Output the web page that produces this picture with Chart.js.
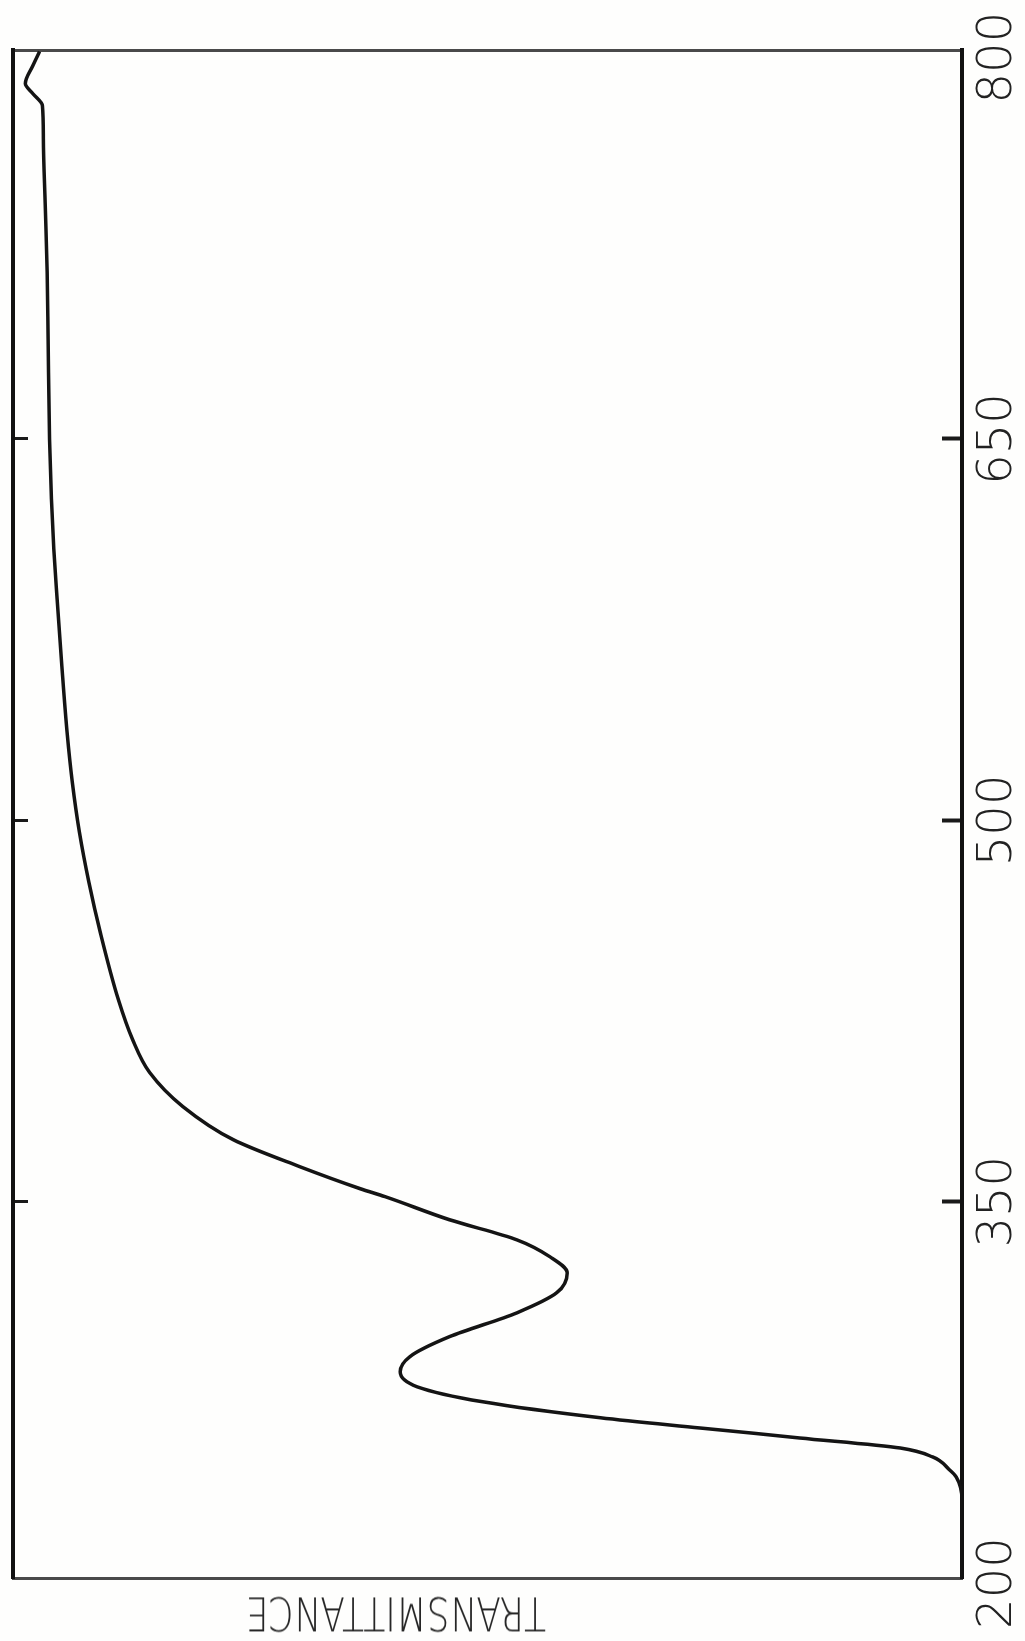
<!DOCTYPE html>
<html><head><meta charset="utf-8">
<script src="https://cdn.jsdelivr.net/npm/chart.js@4.4.0/dist/chart.umd.min.js"></script>
<style>
html,body{margin:0;padding:0;background:#fefefd;}
#wrap{position:relative;width:1025px;height:1641px;overflow:hidden;}
canvas{display:block;}
#tlabel{position:absolute;left:396px;top:1614px;font-family:"DejaVu Sans",sans-serif;font-weight:300;font-size:47px;color:#262626;white-space:nowrap;line-height:1;transform-origin:50% 50%;}
</style></head><body>
<div id="wrap"><canvas id="c" width="1025" height="1641"></canvas><div id="tlabel"></div></div>
<script>
// wavelength (mµ) along the vertical axis, transmittance (%) along the horizontal one
const wavelength = [802.4, 796.9, 789.8, 785.8, 781.1, 768.1, 741.7, 715.7, 689.4, 650, 626.4, 606.7, 587, 560.6, 534.6, 515, 495.3, 475.6, 455.9, 429.5, 413.8, 400.8, 387.4, 374.4, 363.8, 355.1, 352.0, 342.9, 335, 328.3, 322, 314.2, 306.3, 296.9, 289, 283.1, 277.2, 271.3, 265, 261, 257.1, 253.1, 249.6, 244.5, 241.7, 232.7, 202];
const transmittance = [97.2, 97.9, 98.7, 97.9, 96.9, 96.8, 96.6, 96.4, 96.3, 96.15, 95.95, 95.7, 95.35, 94.85, 94.3, 93.75, 93.0, 92.0, 90.8, 88.9, 87.4, 85.6, 82.1, 76.8, 69.8, 63.4, 60.8, 54.0, 46.9, 43.4, 41.6, 42.7, 46.9, 54.0, 58.2, 59.2, 57.4, 50.5, 38.1, 27.6, 17.1, 6.5, 3.1, 1.3, 0.6, 0, 0];
const wavelengthTicks = [200, 350, 500, 650, 800];
const axisTitle = 'TRANSMITTANCE';

const points = wavelength.map((w, i) => ({x: transmittance[i], y: w}));
const innerTickColor = c => (c.tick && (c.tick.value === 200 || c.tick.value === 800)) ? 'rgba(0,0,0,0)' : '#1a1a1a';
const setTicks = s => { s.ticks = wavelengthTicks.map(v => ({value: v})); };

new Chart(document.getElementById('c').getContext('2d'), {
  type: 'scatter',
  data: {datasets: [{data: points, indexAxis: 'y', showLine: true, borderColor: '#141414', borderWidth: 3.5,
                     pointRadius: 0, cubicInterpolationMode: 'monotone', fill: false}]},
  options: {
    responsive: false, animation: false, devicePixelRatio: 1,
    layout: {padding: {left: 13, top: 50, right: 0, bottom: 0}},
    plugins: {legend: {display: false}, tooltip: {enabled: false}},
    scales: {
      x: {type: 'linear', position: 'bottom', min: 0, max: 100, reverse: true,
          ticks: {display: false}, grid: {display: false},
          border: {display: true, color: '#4a4a4a', width: 3},
          afterFit: s => { s.height = 63; }},
      xTop: {type: 'linear', position: 'top', min: 0, max: 100, reverse: true,
          ticks: {display: false}, grid: {display: false},
          border: {display: true, color: '#4a4a4a', width: 3},
          afterFit: s => { s.height = 0; }},
      y: {type: 'linear', position: 'right', min: 202, max: 803,
          afterBuildTicks: setTicks,
          ticks: {autoSkip: false, minRotation: 90, maxRotation: 90, crossAlign: 'center', padding: 11,
                  font: {family: 'DejaVu Sans', size: 48, weight: 200}, color: '#222'},
          grid: {display: true, drawOnChartArea: false, drawTicks: true, tickLength: -20, tickWidth: 4, tickColor: innerTickColor},
          border: {display: true, color: '#111', width: 4},
          afterFit: s => { s.width = 63; }},
      yLeft: {type: 'linear', position: 'left', min: 202, max: 803,
          afterBuildTicks: setTicks,
          ticks: {display: false},
          grid: {display: true, drawOnChartArea: false, drawTicks: true, tickLength: -15, tickWidth: 3, tickColor: innerTickColor},
          border: {display: true, color: '#111', width: 4},
          afterFit: s => { s.width = 0; }}
    }
  }
});

// upside-down axis title, squeezed to the width seen in the scan
const lab = document.getElementById('tlabel');
lab.textContent = axisTitle;
const w = lab.getBoundingClientRect().width;
const sx = 300 / w;
lab.style.transform = 'translate(-50%,-50%) rotate(180deg) scaleX(' + sx.toFixed(3) + ')';
</script>
</body></html>
